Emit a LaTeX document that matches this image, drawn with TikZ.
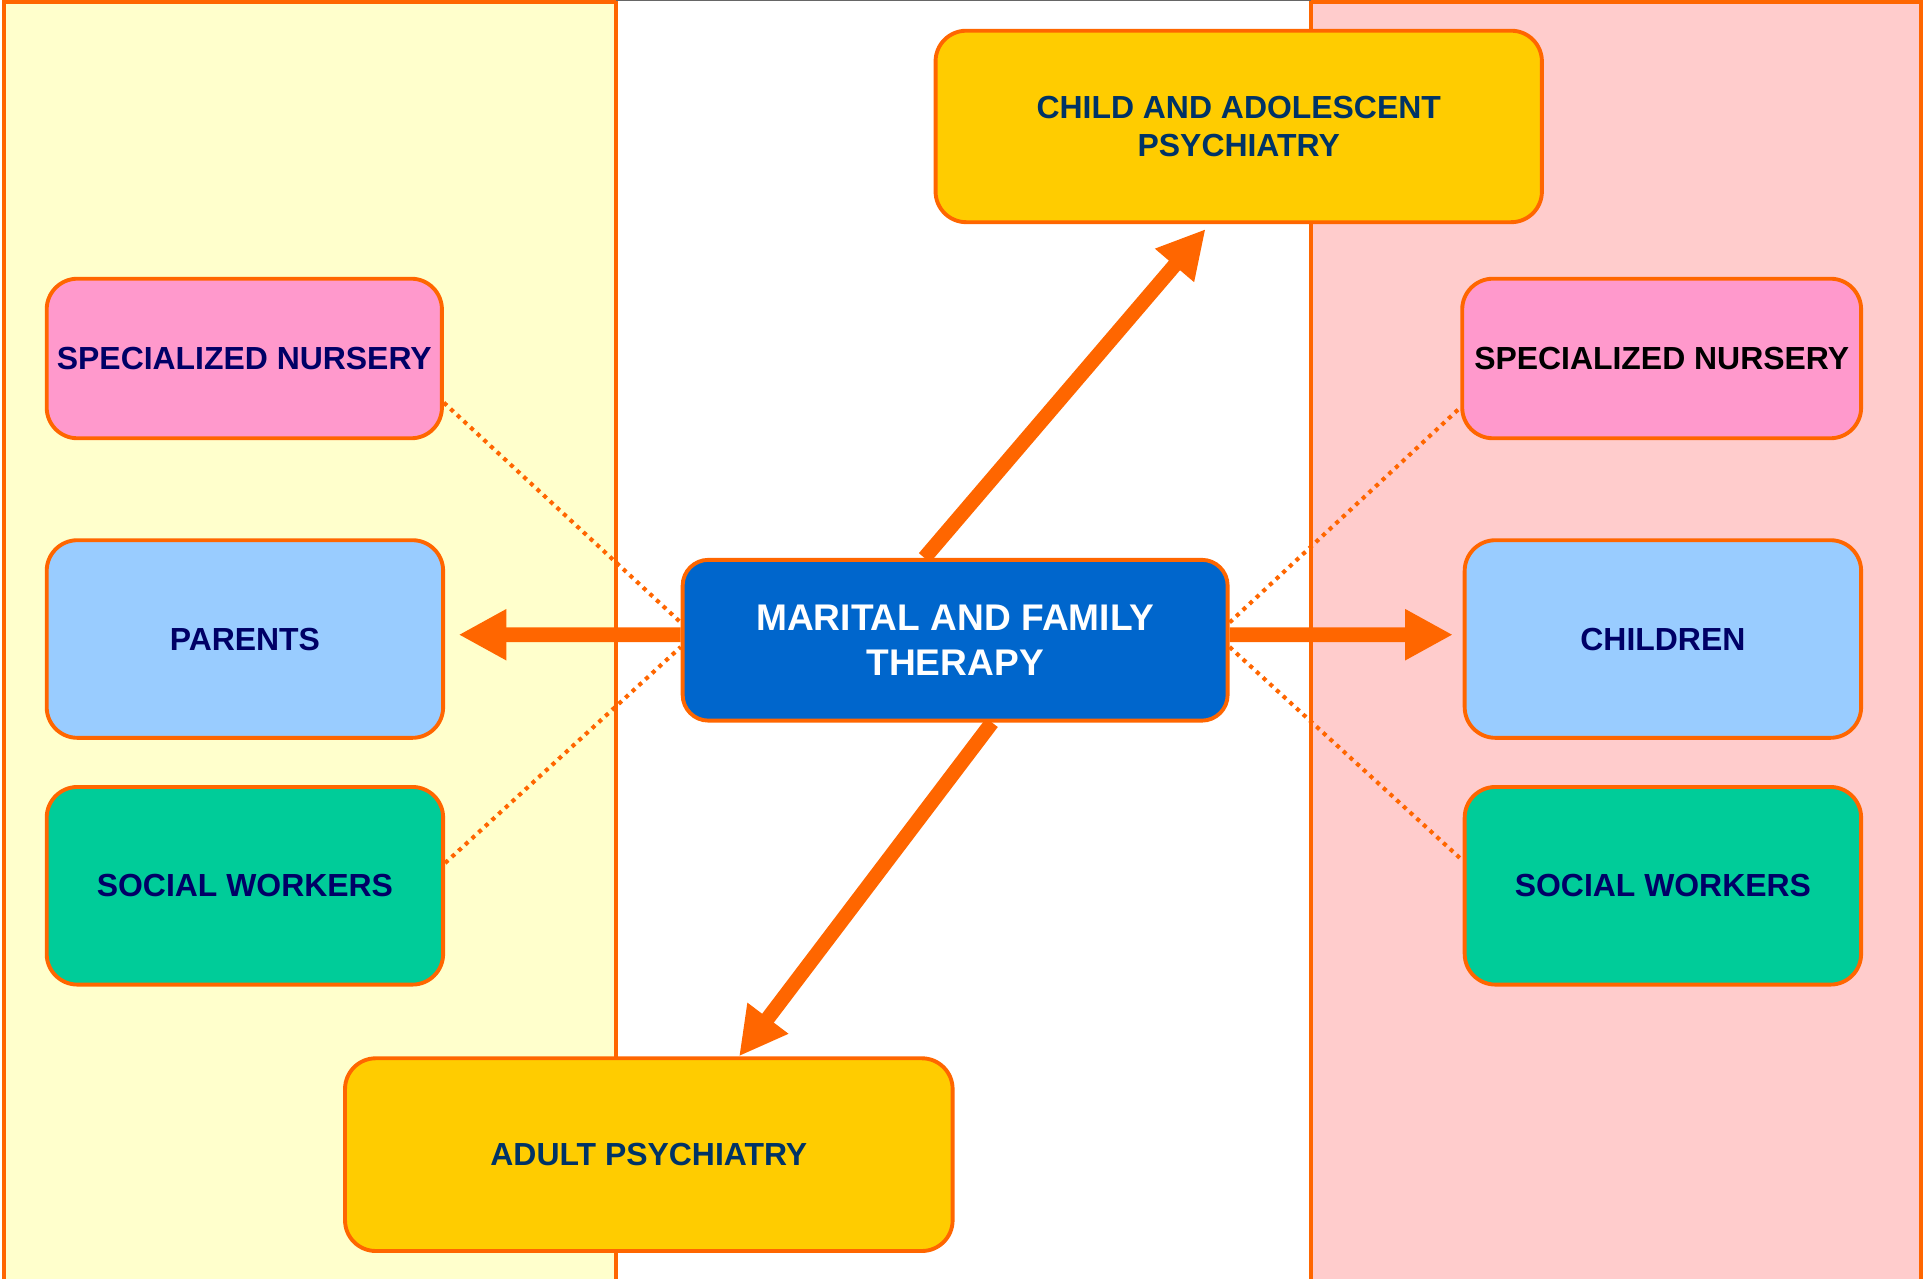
\documentclass[tikz,border=0pt]{standalone}
\usepackage{fontspec}
\setmainfont{Liberation Sans}
\usetikzlibrary{arrows.meta,backgrounds}
\definecolor{orng}{HTML}{FF6600}
\definecolor{panelyel}{HTML}{FFFFCC}
\definecolor{panelpink}{HTML}{FFCCCC}
\definecolor{gold}{HTML}{FFCC00}
\definecolor{rose}{HTML}{FF99CC}
\definecolor{sky}{HTML}{99CCFF}
\definecolor{mint}{HTML}{00CC99}
\definecolor{royal}{HTML}{0066CC}
\definecolor{navy}{HTML}{000066}
\definecolor{deepblue}{HTML}{003366}
\tikzset{
    box/.style={draw=orng, line width=1.8pt, rounded corners=0.5cm, align=center, inner sep=0pt,
        text=navy, font=\fontsize{14.8}{17.6}\selectfont\bfseries},
    sidebox/.style={box, minimum width=6.46cm, minimum height=3.22cm},
    link/.style={orng, line width=1.9pt, dash pattern=on 1.9pt off 2.3pt},
    bigarrow/.style={orng, line width=6.8pt, -{Triangle[length=0.78cm, width=0.78cm]}},
    panel/.style={draw=orng, line width=1.9pt}
}
\begin{document}
\begin{tikzpicture}[x=0.02cm, y=-0.02cm]
        \useasboundingbox (0,0) rectangle (1568,1041);
        \clip (0,0) rectangle (1568,1041);
        \node[box, fill=gold, text=deepblue, minimum width=9.88cm, minimum height=3.12cm] (cap) at (1009,103) {CHILD AND ADOLESCENT\\PSYCHIATRY};
        \node[box, fill=rose, minimum width=6.44cm, minimum height=2.6cm] (nurl) at (199,292) {SPECIALIZED NURSERY};
        \node[box, fill=rose, text=black, minimum width=6.5cm, minimum height=2.6cm] (nurr) at (1353.5,292) {SPECIALIZED NURSERY};
        \node[sidebox, fill=sky] (par) at (199.5,520.5) {PARENTS};
        \node[sidebox, fill=sky] (chi) at (1354.5,520.5) {CHILDREN};
        \node[sidebox, fill=mint] (socl) at (199.5,721.5) {SOCIAL WORKERS};
        \node[sidebox, fill=mint] (socr) at (1354.5,721.5) {SOCIAL WORKERS};
        \node[box, fill=royal, text=white, rounded corners=0.42cm, minimum width=8.88cm, minimum height=2.62cm,
            font=\fontsize{17.2}{20.5}\selectfont\bfseries] (mft) at (778,521.5) {MARITAL AND FAMILY\\THERAPY};
        \node[box, fill=gold, text=deepblue, minimum width=9.9cm, minimum height=3.14cm] (adult) at (528.5,940.5) {ADULT PSYCHIATRY};
        \begin{pgfonlayer}{background}
            \draw[panel, fill=panelyel] (3,1.5) rectangle (502,1060);
            \draw[panel, fill=panelpink] (1068,1.5) rectangle (1565,1060);
            \draw[black!60, line width=0.6pt] (502,0.4) -- (1068,0.4);
            \draw[link] ([yshift=-0.72cm]nurl.east) -- ([yshift=0.29cm]mft.west);
            \draw[link] ([yshift=0.37cm]socl.east) -- ([yshift=-0.11cm]mft.west);
            \draw[link] ([yshift=0.29cm]mft.east) -- ([yshift=-0.8cm]nurr.west);
            \draw[link] ([yshift=-0.11cm]mft.east) -- ([yshift=0.41cm]socr.west);
            \draw[bigarrow] ([yshift=0.09cm]mft.west) -- ([xshift=0.22cm, yshift=0.07cm]par.east);
            \draw[bigarrow] ([yshift=0.09cm]mft.east) -- ([xshift=-0.16cm, yshift=0.07cm]chi.west);
            \draw[bigarrow] ([xshift=-0.5cm]mft.north) -- ([xshift=-0.54cm, yshift=-0.08cm]cap.south);
            \draw[bigarrow] ([xshift=0.6cm]mft.south) -- ([xshift=1.47cm]adult.north);
        \end{pgfonlayer}
    \end{tikzpicture}
\end{document}
